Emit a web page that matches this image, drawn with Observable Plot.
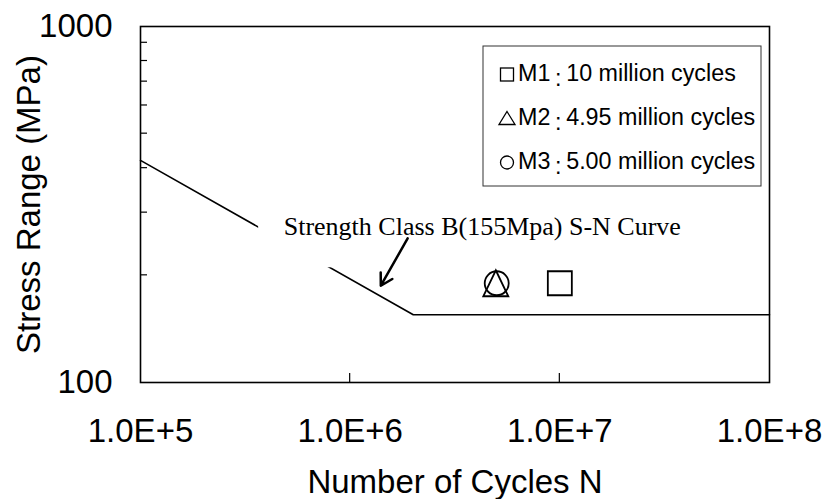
<!DOCTYPE html>
<html>
<head>
<meta charset="utf-8">
<script src="https://cdn.jsdelivr.net/npm/d3@7"></script>
<script src="https://cdn.jsdelivr.net/npm/@observablehq/plot@0.6"></script>
<style>
  html, body { margin: 0; padding: 0; background: #fff; }
</style>
</head>
<body>
<div id="chart"></div>
<script>
// ---- data ----
const curveN = [1e5, 2e6, 1e8];          // Strength class B S-N curve (cycles)
const curveS = [420.8, 155, 155];        // stress range (MPa)

const specimenNames  = ["M1", "M2", "M3"];
const specimenCycles = [1.0e7, 4.95e6, 5.0e6];
const specimenStress = [190, 190, 190];
const specimenShapes = ["square", "triangle", "circle"];
const legendTexts    = ["10 million cycles", "4.95 million cycles", "5.00 million cycles"];

const xTicks = [1e5, 1e6, 1e7, 1e8];
const xTickLabels = ["1.0E+5", "1.0E+6", "1.0E+7", "1.0E+8"];
const xInnerTicks = [1e6, 1e7];
const yTicks = [100, 1000];
const yTickLabels = ["100", "1000"];
const yMinorTicks = [200, 300, 400, 500, 600, 700, 800, 900];

const xTitle = "Number of Cycles N";
const yTitle = "Stress Range (MPa)";

const annotationText = "Strength Class B(155Mpa) S-N Curve";
const annotationN = [4.82e5];
const annotationS = [274];
const maskN = [3.66e5, 4.2e7];
const maskS = [210, 314];
const arrowN = [1.88e6, 1.40e6];
const arrowS = [254, 187];

// ---- build tables ----
const curve = curveN.map((n, i) => ({N: n, S: curveS[i]}));
const specimens = specimenNames.map((m, i) => ({
  name: m, N: specimenCycles[i], S: specimenStress[i], shape: specimenShapes[i]
}));

const SANS = "Liberation Sans, Arial, sans-serif";
const SERIF = "Liberation Serif, Times New Roman, serif";

const shapeSymbols = {
  square: {draw(ctx) { ctx.moveTo(-12, -12); ctx.lineTo(12, -12); ctx.lineTo(12, 12); ctx.lineTo(-12, 12); ctx.closePath(); }},
  triangle: {draw(ctx) { ctx.moveTo(0, -13); ctx.lineTo(12.5, 13); ctx.lineTo(-12.5, 13); ctx.closePath(); }},
  circle: {draw(ctx) { ctx.moveTo(12, 0); ctx.arc(0, 0, 12, 0, 2 * Math.PI); ctx.closePath(); }}
};

function innerTicks(index, scales, values, dims) {
  const x = scales.x, y = scales.y;
  const left = dims.marginLeft;
  const bottom = dims.height - dims.marginBottom;
  const g = d3.create("svg:g").attr("stroke", "black").attr("stroke-width", 1.2);
  for (const v of yMinorTicks) {
    g.append("line").attr("x1", left).attr("x2", left + 7).attr("y1", y(v)).attr("y2", y(v));
  }
  for (const v of xInnerTicks) {
    g.append("line").attr("x1", x(v)).attr("x2", x(v)).attr("y1", bottom).attr("y2", bottom - 9);
  }
  return g.node();
}

function legendMark(index, scales, values, dims) {
  const right = dims.width - dims.marginRight;
  const top = dims.marginTop;
  const bw = 278, bh = 140;
  const bx = right - 8 - bw, by = top + 20;
  const g = d3.create("svg:g");
  g.append("rect").attr("x", bx).attr("y", by).attr("width", bw).attr("height", bh)
    .attr("fill", "white").attr("stroke", "#333").attr("stroke-width", 1);
  specimenNames.forEach((name, i) => {
    const base = by + 35 + i * 44;
    const cx = bx + 24, cy = base - 6.5;
    const shape = specimenShapes[i];
    const sg = g.append("g").attr("fill", "none").attr("stroke", "black").attr("stroke-width", 1.3);
    if (shape === "square") {
      sg.append("rect").attr("x", cx - 6.5).attr("y", cy - 6.5).attr("width", 13).attr("height", 13);
    } else if (shape === "triangle") {
      sg.append("path").attr("d", `M${cx},${cy - 7}L${cx + 8},${cy + 6}L${cx - 8},${cy + 6}Z`);
    } else {
      sg.append("circle").attr("cx", cx).attr("cy", cy).attr("r", 6.5);
    }
    const t = g.append("text").attr("x", bx + 35).attr("y", base)
      .attr("text-anchor", "start")
      .attr("font-family", SANS).attr("font-size", 23.3).attr("fill", "black");
    t.append("tspan").text(name);
    t.append("tspan").attr("dy", 5).text("\u2009:\u2009");
    t.append("tspan").attr("dy", -5).text(legendTexts[i]);
  });
  return g.node();
}

const chart = Plot.plot({
  width: 827,
  height: 499,
  marginLeft: 140,
  marginRight: 58,
  marginTop: 26,
  marginBottom: 117,
  style: {background: "white", color: "black", fontFamily: SANS, fontSize: "33px"},
  x: {type: "log", domain: [1e5, 1e8]},
  y: {type: "log", domain: [100, 1000]},
  marks: [
    Plot.line(curve, {x: "N", y: "S", stroke: "black", strokeWidth: 1.6}),
    Plot.rect([0], {x1: () => maskN[0], x2: () => maskN[1], y1: () => maskS[0], y2: () => maskS[1], fill: "white"}),
    Plot.text([annotationText], {
      x: () => annotationN[0], y: () => annotationS[0], text: d => d,
      textAnchor: "start", lineAnchor: "middle",
      fontFamily: SERIF, fontSize: 26, fill: "black"
    }),
    Plot.arrow([0], {
      x1: () => arrowN[0], y1: () => arrowS[0], x2: () => arrowN[1], y2: () => arrowS[1],
      stroke: "black", strokeWidth: 2.5, headLength: 8
    }),
    Plot.dot(specimens, {
      x: "N", y: "S",
      symbol: d => shapeSymbols[d.shape],
      stroke: "black", strokeWidth: 1.8, fill: "none", r: 12
    }),
    Plot.axisX({
      ticks: xTicks, tickFormat: d => xTickLabels[xTicks.indexOf(d)],
      tickSize: 0, tickPadding: 36, fontSize: 33, label: null
    }),
    Plot.axisY({
      ticks: yTicks, tickFormat: d => yTickLabels[yTicks.indexOf(d)],
      tickSize: 0, tickPadding: 28, fontSize: 33, label: null
    }),
    Plot.text([xTitle], {
      frameAnchor: "bottom", text: d => d, lineAnchor: "top", dy: 87,
      fontSize: 33, fontFamily: SANS, fill: "black"
    }),
    Plot.text([yTitle], {
      frameAnchor: "left", text: d => d, rotate: -90, textAnchor: "middle", lineAnchor: "middle", dx: -111,
      fontSize: 33, fontFamily: SANS, fill: "black"
    }),
    innerTicks,
    legendMark,
    Plot.frame({stroke: "black", strokeWidth: 1.6})
  ]
});
document.getElementById("chart").appendChild(chart);
</script>
</body>
</html>
